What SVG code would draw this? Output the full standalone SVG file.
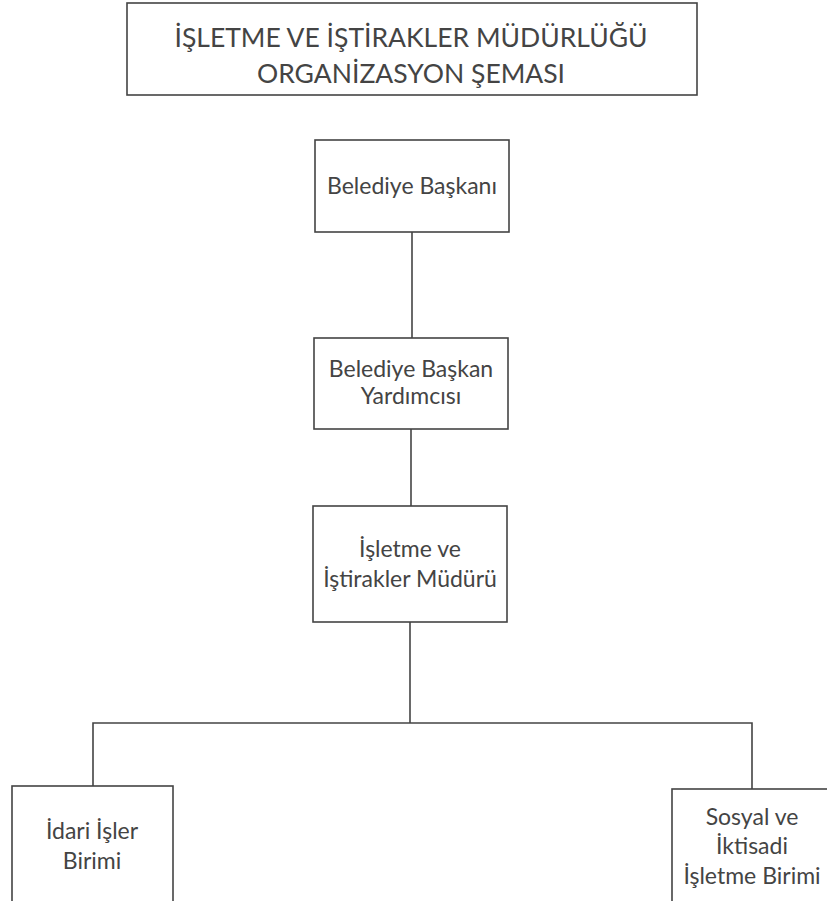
<svg xmlns="http://www.w3.org/2000/svg" width="827" height="901" viewBox="0 0 827 901">
<style>
.box{fill:#fff;stroke:#444;stroke-width:1.6}
.t{font-family:Lato,"Open Sans","Liberation Sans",sans-serif;fill:#444;text-anchor:middle;font-size:23px}
.title{font-size:26.5px}
.con{fill:none;stroke:#444;stroke-width:1.6}
</style>
<rect width="827" height="901" fill="#fff"/>
<g id="title">
<rect class="box" x="127" y="3" width="570" height="92"/>
<text class="t title" x="411" y="47">İŞLETME VE İŞTİRAKLER MÜDÜRLÜĞÜ</text>
<text class="t title" x="411" y="83">ORGANİZASYON ŞEMASI</text>
</g>
<g id="connectors">
<path class="con" d="M412 232V338"/>
<path class="con" d="M411 429V506"/>
<path class="con" d="M410 622V723"/>
<path class="con" d="M93 786V723H752V789"/>
</g>
<g id="baskan">
<rect class="box" x="315" y="140" width="194" height="92"/>
<text class="t" x="412" y="194">Belediye Başkanı</text>
</g>
<g id="yardimci">
<rect class="box" x="314" y="338" width="194" height="91"/>
<text class="t" x="411" y="377">Belediye Başkan</text>
<text class="t" x="411" y="404">Yardımcısı</text>
</g>
<g id="mudur">
<rect class="box" x="313" y="506" width="194" height="116"/>
<text class="t" x="410" y="557">İşletme ve</text>
<text class="t" x="410" y="587">İştirakler Müdürü</text>
</g>
<g id="idari">
<rect class="box" x="12" y="786" width="161" height="130"/>
<text class="t" x="92" y="839">İdari İşler</text>
<text class="t" x="92" y="869">Birimi</text>
</g>
<g id="sosyal">
<rect class="box" x="672" y="789" width="170" height="130"/>
<text class="t" x="752" y="825">Sosyal ve</text>
<text class="t" x="752" y="854">İktisadi</text>
<text class="t" x="752" y="884">İşletme Birimi</text>
</g>
</svg>
